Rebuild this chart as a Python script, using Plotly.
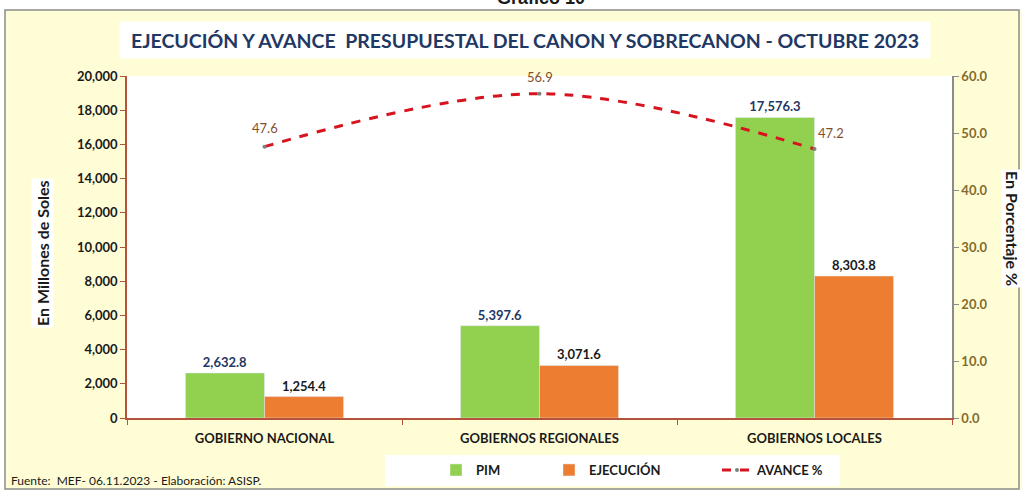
import plotly.graph_objects as go

categories = ["GOBIERNO NACIONAL", "GOBIERNOS REGIONALES", "GOBIERNOS LOCALES"]
pim = [2632.8, 5397.6, 17576.3]
ejecucion = [1254.4, 3071.6, 8303.8]
avance = [47.6, 56.9, 47.2]
left_ticks = list(range(0, 20001, 2000))
right_ticks = [0, 10, 20, 30, 40, 50, 60]

W, H = 1022, 490
L, R, T, B = 127, 70, 76, 72
PW, PH = W - L - R, H - T - B

def px(x):
    return (x - L) / PW

def py(y):
    return (H - B - y) / PH

FONT = "Lato, Roboto, sans-serif"
CREAM = "#FFFDD6"
AXRED = "#B5523B"
LEGFONT = dict(family=FONT, size=13, color="#1a1a1a", weight="bold")

fig = go.Figure()
fig.add_trace(go.Bar(
    name="PIM", x=categories, y=pim, marker_color="#92D050",
    text=pim, texttemplate="%{y:,.1f}", textposition="outside",
    textfont=dict(family=FONT, size=13, color="#1F3864", weight="bold"),
    cliponaxis=False, legend="legend",
))
fig.add_trace(go.Bar(
    name="EJECUCIÓN", x=categories, y=ejecucion, marker_color="#ED7D31",
    text=ejecucion, texttemplate="%{y:,.1f}", textposition="outside",
    textfont=dict(family=FONT, size=13, color="#1a1a1a", weight="bold"),
    cliponaxis=False, legend="legend",
))
fig.add_trace(go.Scatter(
    name="AVANCE %", x=categories, y=avance, yaxis="y2",
    mode="lines+markers",
    line=dict(color="#D7141E", width=3, dash="dash", shape="spline", smoothing=1),
    marker=dict(color="#7F7F7F", size=4),
    cliponaxis=False, legend="legend2",
))

fig.update_layout(
    width=W, height=H,
    margin=dict(l=L, r=R, t=T, b=B, autoexpand=False),
    paper_bgcolor=CREAM, plot_bgcolor="white",
    barmode="group", bargap=0.425, bargroupgap=0,
    font=dict(family=FONT, color="#1a1a1a"),
    showlegend=True,
    legend=dict(orientation="h", x=px(436), xanchor="left", y=py(470), yanchor="middle",
                bgcolor="white", font=LEGFONT, entrywidth=68, traceorder="normal"),
    legend2=dict(orientation="h", x=px(717), xanchor="left", y=py(470), yanchor="middle",
                 bgcolor="white", font=LEGFONT),
    xaxis=dict(showline=True, linecolor=AXRED, linewidth=1.5, ticks="outside", tickson="boundaries",
               ticklen=5, tickcolor=AXRED, showgrid=False,
               tickfont=dict(family=FONT, size=13, color="#1a1a1a", weight="bold"),
               ticklabelstandoff=8),
    yaxis=dict(range=[0, 20000], tickvals=left_ticks, tickformat=",", showgrid=False,
               showline=True, linecolor=AXRED, linewidth=1.5, ticks="outside", ticklen=5,
               tickcolor=AXRED, zeroline=False,
               tickfont=dict(family=FONT, size=13, color="#1a1a1a", weight="bold")),
    yaxis2=dict(range=[0, 60], tickvals=right_ticks, tickformat=".1f", overlaying="y", side="right",
                showgrid=False, showline=True, linecolor="#8C8C8C", linewidth=1.5, ticks="outside",
                ticklen=5, tickcolor="#8C8C8C", zeroline=False,
                tickfont=dict(family=FONT, size=13, color="#846A2E", weight="bold")),
)

shapes = [
    dict(type="rect", xref="paper", yref="paper", x0=px(0), x1=px(W), y0=py(10), y1=py(0),
         fillcolor="white", line=dict(width=0), layer="below"),
    dict(type="rect", xref="paper", yref="paper", x0=px(0), x1=px(5), y0=py(H), y1=py(0),
         fillcolor="white", line=dict(width=0), layer="below"),
    dict(type="rect", xref="paper", yref="paper", x0=px(5), x1=px(1019), y0=py(489), y1=py(10),
         line=dict(color="#8C8C8C", width=1.5), layer="below"),
    dict(type="rect", xref="paper", yref="paper", x0=px(385), x1=px(840), y0=py(486), y1=py(455),
         fillcolor="white", line=dict(width=0), layer="below"),
]
fig.update_layout(shapes=shapes)

annotations = [
    dict(text="<b>Gráfico 10</b>", xref="paper", yref="paper", x=px(541), y=py(-2),
         xanchor="center", yanchor="middle", showarrow=False,
         font=dict(family="Liberation Sans, Arial, sans-serif", size=18, color="#1a1a1a")),
    dict(text="<b>EJECUCIÓN Y AVANCE  PRESUPUESTAL DEL CANON Y SOBRECANON - OCTUBRE 2023</b>",
         xref="paper", yref="paper", x=px(525), y=py(40), xanchor="center", yanchor="middle",
         showarrow=False, bgcolor="white", width=808, height=34,
         font=dict(family=FONT, size=19.5, color="#1F3864")),
    dict(text="<b>En Millones de Soles</b>", xref="paper", yref="paper", x=px(42), y=py(253),
         xanchor="center", yanchor="middle", showarrow=False, textangle=-90, bgcolor="white",
         font=dict(family=FONT, size=16, color="#1a1a1a")),
    dict(text="<b>En Porcentaje %</b>", xref="paper", yref="paper", x=px(1013), y=py(228),
         xanchor="center", yanchor="middle", showarrow=False, textangle=90, bgcolor="white",
         font=dict(family=FONT, size=16, color="#1a1a1a")),
    dict(text="Fuente:  MEF- 06.11.2023 - Elaboración: ASISP.", xref="paper", yref="paper",
         x=px(9), y=py(481), xanchor="left", yanchor="middle", showarrow=False,
         font=dict(family=FONT, size=12, color="#1a1a1a")),
]
shifts = [(0, 19), (0, 17), (16, 16)]
for cat, val, (dx, dy) in zip(categories, avance, shifts):
    annotations.append(dict(text=f"{val:.1f}", x=cat, y=val, xref="x", yref="y2",
                            xshift=dx, yshift=dy, showarrow=False,
                            font=dict(family=FONT, size=13, color="#7F4F2F")))
fig.update_layout(annotations=annotations)

fig.write_html("out.html", config={"displayModeBar": False},
               post_script="document.body.style.margin='0';document.body.style.overflow='hidden';")
